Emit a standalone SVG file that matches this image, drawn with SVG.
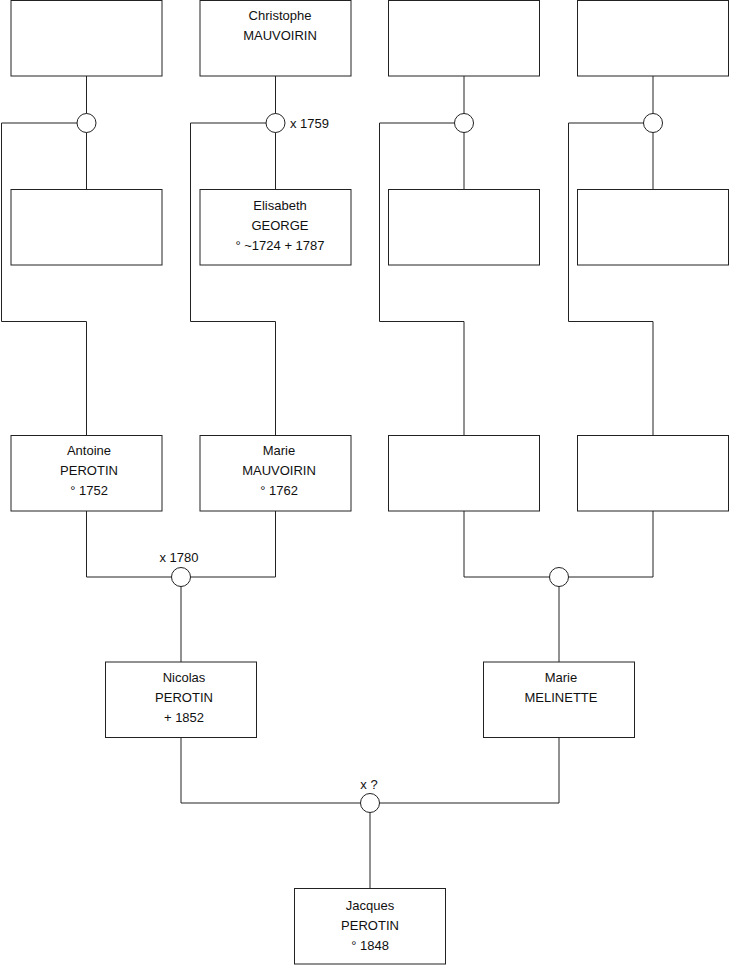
<svg xmlns="http://www.w3.org/2000/svg" width="740" height="975" viewBox="0 0 740 975">
<style>
.box{fill:#fff;stroke:#222;stroke-width:1}
.ln{fill:none;stroke:#222;stroke-width:1}
.ring{fill:#fff;stroke:#222;stroke-width:1}
text{font-family:"Liberation Sans",Arial,sans-serif;font-size:13px;fill:#111}
.c{text-anchor:middle}
</style>
<rect width="740" height="975" fill="#fff"/>
<g id="connectors">
<path class="ln" d="M86.5 76V189M86.5 123H1.5V321.5H86.5V435"/>
<path class="ln" d="M275.5 76V189M275.5 123H190.5V321.5H275.5V435"/>
<path class="ln" d="M464 76V189M464 123H379.5V321.5H464V435"/>
<path class="ln" d="M653 76V189M653 123H568.5V321.5H653V435"/>
<path class="ln" d="M86.5 511V577H275.5V511M181 577V662"/>
<path class="ln" d="M464 511V577H653V511M559 577V662"/>
<path class="ln" d="M181 737V803H559V737M370 803V888"/>
<circle class="ring" cx="86.5" cy="123" r="9.5"/>
<circle class="ring" cx="275.5" cy="123" r="9.5"/>
<circle class="ring" cx="464" cy="123" r="9.5"/>
<circle class="ring" cx="653" cy="123" r="9.5"/>
<circle class="ring" cx="181" cy="577" r="9.5"/>
<circle class="ring" cx="559" cy="577" r="9.5"/>
<circle class="ring" cx="370" cy="803" r="9.5"/>
<text x="290" y="128">x 1759</text>
<text class="c" x="179" y="562">x 1780</text>
<text class="c" x="369" y="789">x ?</text>
</g>
<g id="n1"><rect class="box" x="11" y="0.5" width="151" height="75.5"/></g>
<g id="n2"><rect class="box" x="200" y="0.5" width="151" height="75.5"/><text class="c" x="280" y="20">Christophe</text><text class="c" x="280" y="40">MAUVOIRIN</text></g>
<g id="n3"><rect class="box" x="388.5" y="0.5" width="151" height="75.5"/></g>
<g id="n4"><rect class="box" x="577.5" y="0.5" width="151" height="75.5"/></g>
<g id="n5"><rect class="box" x="11" y="189.5" width="151" height="75.5"/></g>
<g id="n6"><rect class="box" x="200" y="189.5" width="151" height="75.5"/><text class="c" x="280" y="210">Elisabeth</text><text class="c" x="280" y="230">GEORGE</text><text class="c" x="280" y="250">° ~1724 + 1787</text></g>
<g id="n7"><rect class="box" x="388.5" y="189.5" width="151" height="75.5"/></g>
<g id="n8"><rect class="box" x="577.5" y="189.5" width="151" height="75.5"/></g>
<g id="n9"><rect class="box" x="11" y="435.5" width="151" height="75.5"/><text class="c" x="89" y="455">Antoine</text><text class="c" x="89" y="475">PEROTIN</text><text class="c" x="89" y="495">° 1752</text></g>
<g id="n10"><rect class="box" x="200" y="435.5" width="151" height="75.5"/><text class="c" x="279" y="455">Marie</text><text class="c" x="279" y="475">MAUVOIRIN</text><text class="c" x="279" y="495">° 1762</text></g>
<g id="n11"><rect class="box" x="388.5" y="435.5" width="151" height="75.5"/></g>
<g id="n12"><rect class="box" x="577.5" y="435.5" width="151" height="75.5"/></g>
<g id="n13"><rect class="box" x="105.5" y="662" width="151" height="75.5"/><text class="c" x="184" y="682">Nicolas</text><text class="c" x="184" y="702">PEROTIN</text><text class="c" x="184" y="722">+ 1852</text></g>
<g id="n14"><rect class="box" x="483.5" y="662" width="151" height="75.5"/><text class="c" x="561" y="682">Marie</text><text class="c" x="561" y="702">MELINETTE</text></g>
<g id="n15"><rect class="box" x="294.5" y="888.5" width="151" height="75.5"/><text class="c" x="370" y="910">Jacques</text><text class="c" x="370" y="930">PEROTIN</text><text class="c" x="370" y="950">° 1848</text></g>
</svg>
